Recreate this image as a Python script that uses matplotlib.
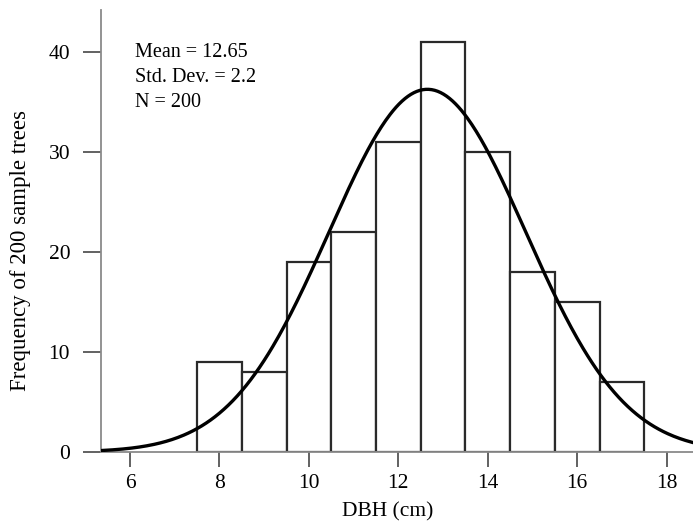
import numpy as np
import matplotlib
matplotlib.use('Agg')
import matplotlib.pyplot as plt

# DBH classes (bin centres, cm) and counts
BIN_CENTRES = [8, 9, 10, 11, 12, 13, 14, 15, 16, 17]
COUNTS = [9, 8, 19, 22, 31, 41, 30, 18, 15, 7]
BIN_WIDTH = 1.0

# fitted normal curve parameters
MEAN = 12.65
STD = 2.2
N = 200

X_TICKS = [6, 8, 10, 12, 14, 16, 18]
Y_TICKS = [0, 10, 20, 30, 40]

plt.rcParams['font.family'] = ['Liberation Serif', 'DejaVu Serif']

fig = plt.figure(figsize=(6.93, 5.25), dpi=100)
ax = fig.add_axes([0.1453, 0.139, 0.8547, 0.842])

ax.bar(BIN_CENTRES, COUNTS, width=BIN_WIDTH, color='white',
       edgecolor='#2a2a2a', linewidth=1.6, zorder=2)

x_min, x_max = 5.345, 18.59
xs = np.linspace(x_min, x_max, 400)
pdf = np.exp(-0.5 * ((xs - MEAN) / STD) ** 2) / (STD * np.sqrt(2 * np.pi))
ax.plot(xs, N * BIN_WIDTH * pdf, color='black', linewidth=2.4, zorder=3)

ax.set_xlim(x_min, x_max)
ax.set_ylim(0, 44.2)
ax.set_xticks(X_TICKS)
ax.set_yticks(Y_TICKS)

for side in ['top', 'right']:
    ax.spines[side].set_visible(False)
for side in ['left', 'bottom']:
    ax.spines[side].set_color('#8a8a8a')
    ax.spines[side].set_linewidth(1.3)

ax.tick_params(axis='y', direction='out', length=13, width=1.3,
               color='#555555', labelsize=15.5, pad=9)
ax.tick_params(axis='x', direction='out', length=11, width=1.3,
               color='#555555', labelsize=15.5, pad=5)

ax.set_xlabel('DBH (cm)', fontsize=15.5)
ax.xaxis.set_label_coords(0.484, -0.113)
ax.set_ylabel('Frequency of 200 sample trees', fontsize=16.5)
ax.yaxis.set_label_coords(-0.118, 0.455)

stats_text = 'Mean = %.2f\nStd. Dev. = %.1f\nN = %d' % (MEAN, STD, N)
ax.text(0.058, 0.926, stats_text, transform=ax.transAxes, fontsize=14.5,
        va='top', ha='left', linespacing=1.45)

fig.savefig('out.png', dpi=100)
